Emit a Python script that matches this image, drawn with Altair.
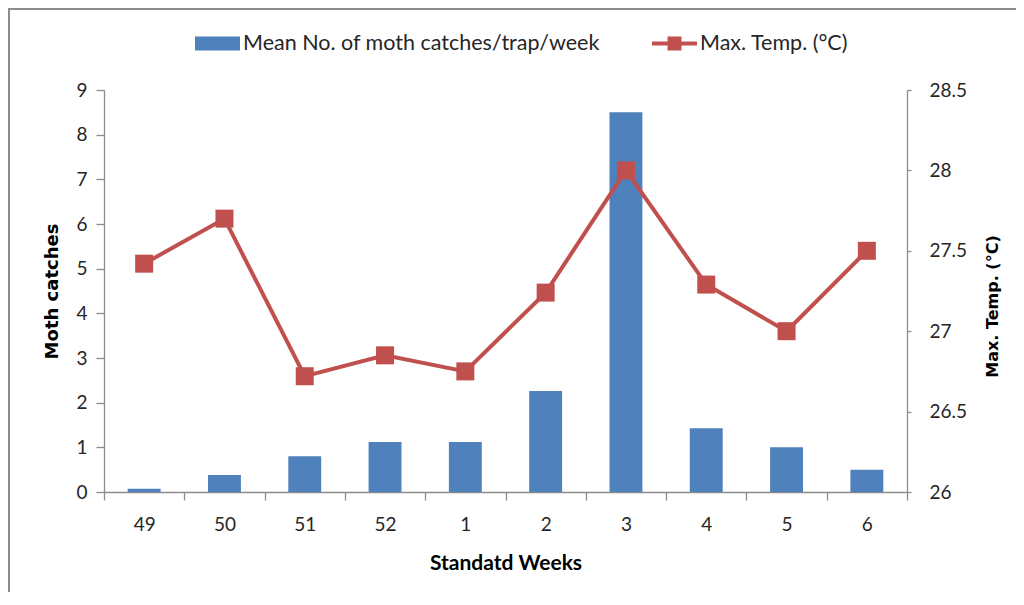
import altair as alt
import pandas as pd

weeks = ["49", "50", "51", "52", "1", "2", "3", "4", "5", "6"]
catches = [0.07, 0.38, 0.80, 1.12, 1.12, 2.26, 8.50, 1.43, 1.00, 0.50]
temps = [27.42, 27.70, 26.72, 26.85, 26.75, 27.24, 28.00, 27.29, 27.00, 27.50]
bar_label = "Mean No. of moth catches/trap/week"
line_label = "Max. Temp. (°C)"

df = pd.DataFrame({"week": weeks, "catches": catches, "temp": temps,
                   "s1": [bar_label] * len(weeks), "s2": [line_label] * len(weeks)})

BLUE = "#4F81BD"
RED = "#C0504D"
AXIS_GRAY = "#8C8C8C"
TXT = "#262626"

x_enc = alt.X("week:N", sort=weeks,
              scale=alt.Scale(paddingInner=0, paddingOuter=0),
              axis=alt.Axis(title="Standatd Weeks", labelAngle=0, tickBand="extent",
                            tickSize=8, labelPadding=15, titlePadding=18,
                            titleFont="Lato", titleFontSize=21, titleFontWeight="bold"))

base = alt.Chart(df)

bars = base.mark_bar(width=alt.RelativeBandSize(0.41)).encode(
    x=x_enc,
    y=alt.Y("catches:Q", scale=alt.Scale(domain=[0, 9], nice=False),
            axis=alt.Axis(title="Moth catches", values=list(range(10)), orient="left",
                          tickSize=8, labelPadding=9, titlePadding=14,
                          titleFont="DejaVu Sans", titleFontSize=18, titleFontWeight="bold")),
    fill=alt.Fill("s1:N", scale=alt.Scale(range=[BLUE]),
                  legend=alt.Legend(title=None, orient="none", legendX=91, legendY=-69,
                                    symbolType="M-1,-0.31H1V0.31H-1Z", symbolSize=2025,
                                    symbolStrokeWidth=0, labelOffset=3)),
)

temp_axis = alt.Axis(title="Max. Temp.  (°C)", orient="right", format="~g",
                     values=[26, 26.5, 27, 27.5, 28, 28.5], titleAngle=270,
                     tickSize=4, labelPadding=18, titlePadding=34, titleY=216,
                     titleFont="DejaVu Sans", titleFontSize=16, titleFontWeight="bold")
temp_scale = alt.Scale(domain=[26, 28.5], nice=False, zero=False)

line = base.mark_line(strokeWidth=4).encode(
    x=alt.X("week:N", sort=weeks),
    y=alt.Y("temp:Q", scale=temp_scale, axis=temp_axis),
    stroke=alt.Stroke("s2:N", scale=alt.Scale(range=[RED]),
                      legend=alt.Legend(title=None, orient="none", legendX=548, legendY=-69,
                                        symbolType="M-1,-0.09H-0.31V-0.31H0.31V-0.09H1V0.09H0.31V0.31H-0.31V0.09H-1Z",
                                        symbolSize=2025, symbolFillColor=RED,
                                        symbolStrokeWidth=0, labelOffset=3)),
)

pts = base.mark_square(size=324, color=RED, opacity=1).encode(
    x=alt.X("week:N", sort=weeks),
    y=alt.Y("temp:Q", scale=temp_scale, axis=temp_axis),
)

frame = alt.Chart(pd.DataFrame({"a": [0]})).mark_rect(
    fill=None, stroke="#8C8C8C", strokeWidth=2
).encode(x=alt.value(-95), x2=alt.value(1300), y=alt.value(-81), y2=alt.value(1300))

temp_layer = alt.layer(line, pts)

chart = alt.layer(bars, temp_layer, frame).resolve_scale(
    y="independent", fill="independent", stroke="independent"
).properties(
    width=803, height=402,
    autosize=alt.AutoSizeParams(type="none"),
    padding={"left": 96, "top": 82, "right": 109, "bottom": 100},
).configure_view(stroke=None).configure_axis(
    grid=False, domainColor=AXIS_GRAY, tickColor=AXIS_GRAY, domainWidth=1.3, tickWidth=1.3,
    labelFont="Lato", labelFontSize=19, labelColor=TXT, titleColor="#000000",
).configure_legend(
    labelFont="Lato", labelFontSize=21.5, labelColor=TXT, labelLimit=500,
)

chart.save("out.html", embed_options={"renderer": "svg", "actions": False})
